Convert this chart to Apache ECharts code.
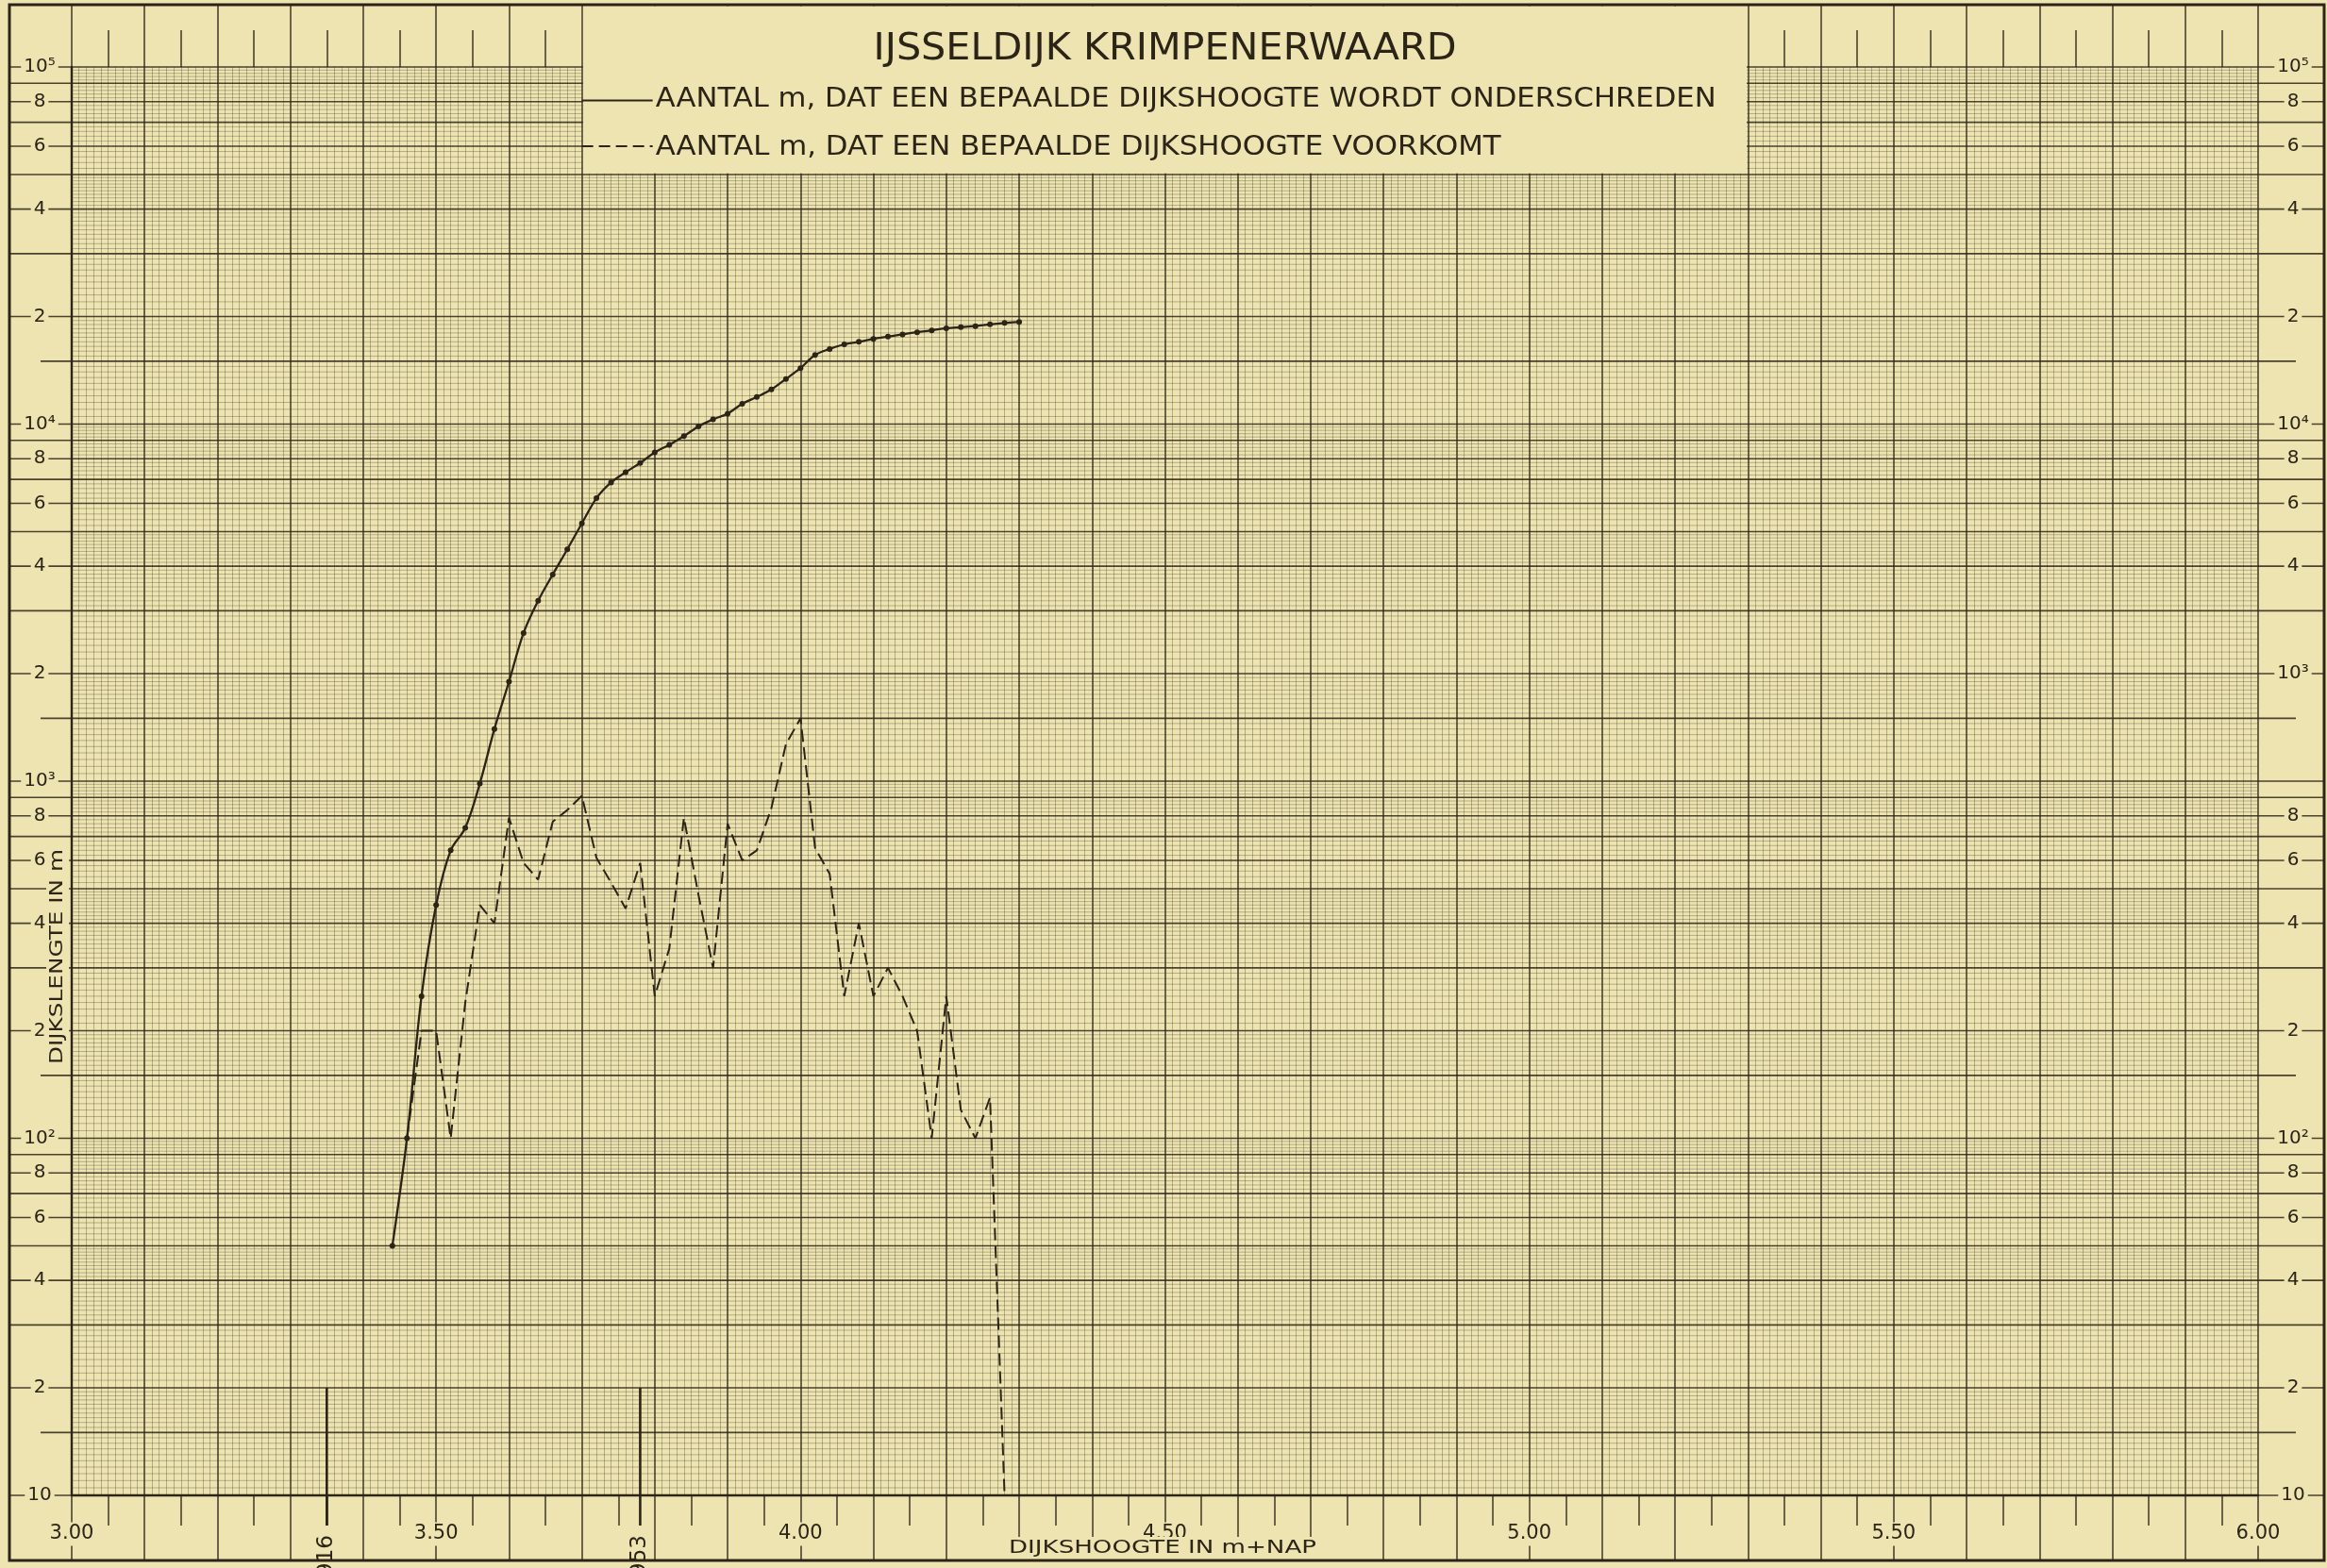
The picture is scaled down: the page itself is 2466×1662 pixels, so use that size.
<!DOCTYPE html>
<html>
<head>
<meta charset="utf-8">
<script src="https://cdn.jsdelivr.net/npm/echarts@6/dist/echarts.min.js"></script>
<style>
html,body{margin:0;padding:0;background:#ece3b0;}
#c{width:2466px;height:1662px;}
</style>
</head>
<body>
<div id="c"></div>
<script>
// ---------------- data ----------------
const solidX = [3.44,3.46,3.48,3.50,3.52,3.54,3.56,3.58,3.60,3.62,3.64,3.66,3.68,3.70,3.72,3.74,3.76,3.78,3.80,3.82,3.84,3.86,3.88,3.90,3.92,3.94,3.96,3.98,4.00,4.02,4.04,4.06,4.08,4.10,4.12,4.14,4.16,4.18,4.20,4.22,4.24,4.26,4.28,4.30];
const solidY = [50,100,250,450,640,740,985,1400,1900,2600,3200,3790,4460,5270,6200,6860,7330,7780,8330,8750,9250,9850,10310,10700,11400,11910,12500,13380,14350,15610,16230,16720,16990,17320,17570,17830,18080,18300,18550,18680,18810,19020,19190,19330];

const dashedX = [3.46,3.48,3.50,3.52,3.54,3.56,3.58,3.60,3.62,3.64,3.66,3.68,3.70,3.72,3.74,3.76,3.78,3.80,3.82,3.84,3.86,3.88,3.90,3.92,3.94,3.96,3.98,4.00,4.02,4.04,4.06,4.08,4.10,4.12,4.14,4.16,4.18,4.20,4.22,4.24,4.26,4.28];
const dashedY = [100,200,200,100,240,450,400,790,590,530,770,830,910,610,520,440,590,250,340,790,480,300,760,600,640,840,1270,1500,650,550,250,400,250,300,250,200,100,250,120,100,130,10];

const xTickValues = [3.0,3.5,4.0,4.5,5.0,5.5,6.0];
const xTickLabels = ['3.00','3.50','4.00','4.50','5.00','5.50','6.00'];

const yLabelValues = [100000,80000,60000,40000,20000,10000,8000,6000,4000,2000,1000,800,600,400,200,100,80,60,40,20,10];
const yLabelsLeft  = ['10⁵','8','6','4','2','10⁴','8','6','4','2','10³','8','6','4','2','10²','8','6','4','2','10'];
const yLabelsRight = ['10⁵','8','6','4','2','10⁴','8','6','4','10³','','8','6','4','2','10²','8','6','4','2','10'];

const markerX = [3.35, 3.78];
const markerLabels = ['916', '953'];

const titleText = 'IJSSELDIJK KRIMPENERWAARD';
const legendSolidText = 'AANTAL m, DAT EEN BEPAALDE DIJKSHOOGTE WORDT ONDERSCHREDEN';
const legendDashedText = 'AANTAL m, DAT EEN BEPAALDE DIJKSHOOGTE VOORKOMT';
const xAxisName = 'DIJKSHOOGTE IN m+NAP';
const yAxisName = 'DIJKSLENGTE IN m';

// ---------------- styling ----------------
const PAPER = '#ede4b1';
const INK = '#2c2417';
const STRONG = 'rgba(46,38,24,0.86)';
const FINE = 'rgba(62,52,34,0.32)';
const FONT = '"DejaVu Sans", "Liberation Sans", sans-serif';

// graph-paper horizontal ruling (log paper): kind 0 fine, 1 = 1.5 line, 2 = main line
const hGrid = [];
for (let e = 1; e <= 4; e++) {
  const b = Math.pow(10, e);
  hGrid.push([3, b, 2]);
  for (let k = 21; k <= 39; k++) hGrid.push([3, b * k / 20, k === 30 ? 1 : 0]);
  for (let k = 20; k <= 50; k++) hGrid.push([3, b * k / 10, k % 10 === 0 ? 2 : 0]);
  for (let k = 26; k <= 49; k++) hGrid.push([3, b * k / 5, k % 5 === 0 ? 2 : 0]);
}
hGrid.push([3, 100000, 2]);

const chart = echarts.init(document.getElementById('c'), null, {renderer: 'canvas'});

function renderH(params, api) {
  const v = api.value(1), kind = api.value(2);
  const a = api.coord([3, v]), b = api.coord([6, v]);
  let x1 = a[0], x2 = b[0];
  if (kind === 1) { x1 -= 33; x2 += 40; }
  if (kind === 2) { x1 -= 66; x2 += 70; }
  return {
    type: 'line', silent: true,
    shape: {x1: x1, y1: a[1], x2: x2, y2: a[1]},
    style: {stroke: kind ? STRONG : FINE, lineWidth: kind ? 1.6 : 1}
  };
}

function labelStyle(t, size) {
  return {text: t, fontSize: size, fontFamily: FONT, fill: INK,
    align: 'center', verticalAlign: 'middle', textAlign: 'center', textVerticalAlign: 'middle',
    backgroundColor: PAPER, padding: [1, 3]};
}

function renderLab(params, api) {
  const i = params.dataIndex;
  const v = api.value(1);
  const a = api.coord([3, v]), b = api.coord([6, v]);
  const ch = [];
  if (yLabelsLeft[i]) ch.push({type: 'text', x: a[0] - 34, y: a[1], style: labelStyle(yLabelsLeft[i], 20)});
  if (yLabelsRight[i]) ch.push({type: 'text', x: b[0] + 37, y: b[1], style: labelStyle(yLabelsRight[i], 20)});
  return {type: 'group', silent: true, children: ch};
}

function renderMark(params, api) {
  const i = params.dataIndex;
  const x = api.value(0);
  const top = api.coord([x, api.value(1)]);
  const bot = api.coord([x, 10]);
  return {type: 'group', silent: true, children: [
    {type: 'line', shape: {x1: top[0], y1: top[1], x2: top[0], y2: bot[1] + 32},
     style: {stroke: INK, lineWidth: 2.6}},
    {type: 'text', x: top[0], y: bot[1] + 42, rotation: Math.PI / 2,
     style: {text: markerLabels[i], fontSize: 23, fontFamily: FONT, fill: INK,
       align: 'right', verticalAlign: 'middle', textAlign: 'right', textVerticalAlign: 'middle'}}
  ]};
}

function xLabelFmt(value) {
  const idx = xTickValues.findIndex(t => Math.abs(t - value) < 1e-6);
  return idx >= 0 ? '{a|' + xTickLabels[idx] + '}' : '';
}

const option = {
  animation: false,
  backgroundColor: PAPER,
  grid: {left: 76, right: 73, top: 71, bottom: 77, containLabel: false},
  xAxis: [
    {type: 'value', min: 3, max: 6, interval: 0.1, position: 'bottom',
     axisLine: {show: true, lineStyle: {color: INK, width: 2.4}},
     axisTick: {show: false}, axisLabel: {show: false},
     splitLine: {show: true, lineStyle: {color: STRONG, width: 1.6}},
     minorTick: {show: false, splitNumber: 10},
     minorSplitLine: {show: true, lineStyle: {color: FINE, width: 1}}},
    {type: 'value', min: 3, max: 6, interval: 0.1, position: 'bottom',
     axisLine: {show: false},
     axisTick: {show: true, length: 69, lineStyle: {color: STRONG, width: 1.6}},
     minorTick: {show: true, splitNumber: 2, length: 32, lineStyle: {color: STRONG, width: 1.6}},
     splitLine: {show: false}, minorSplitLine: {show: false},
     axisLabel: {show: true, margin: 41, verticalAlign: 'middle', showMinLabel: true, showMaxLabel: true,
       formatter: xLabelFmt,
       rich: {a: {fontSize: 21, fontFamily: FONT, color: INK, backgroundColor: PAPER, padding: [2, 3]}}}},
    {type: 'value', min: 3, max: 6, interval: 0.1, position: 'top',
     axisLine: {show: false},
     axisTick: {show: true, length: 66, lineStyle: {color: STRONG, width: 1.6}},
     minorTick: {show: true, splitNumber: 2, length: 39, lineStyle: {color: STRONG, width: 1.6}},
     splitLine: {show: false}, minorSplitLine: {show: false}, axisLabel: {show: false}}
  ],
  yAxis: [
    {type: 'log', logBase: 10, min: 10, max: 100000,
     axisLine: {show: true, lineStyle: {color: INK, width: 2.4}},
     axisTick: {show: false}, axisLabel: {show: false},
     splitLine: {show: false}, minorTick: {show: false}, minorSplitLine: {show: false}}
  ],
  series: [
    {type: 'custom', name: 'hgrid', renderItem: renderH, data: hGrid, clip: false, silent: true,
     encode: {x: 0, y: 1}, z: 1},
    {type: 'custom', name: 'ylabels', renderItem: renderLab,
     data: yLabelValues.map((v, i) => [3, v, i]), clip: false, silent: true, encode: {x: 0, y: 1}, z: 3},
    {type: 'custom', name: 'markers', renderItem: renderMark,
     data: markerX.map((x, i) => [x, 20, i]), clip: false, silent: true, encode: {x: 0, y: 1}, z: 4},
    {type: 'line', name: 'onderschreden', data: solidX.map((x, i) => [x, solidY[i]]),
     smooth: 0.35, symbol: 'circle', symbolSize: 6, showSymbol: true,
     lineStyle: {color: INK, width: 2.3}, itemStyle: {color: INK}, z: 10, silent: true},
    {type: 'line', name: 'voorkomt', data: dashedX.map((x, i) => [x, dashedY[i]]),
     symbol: 'none', lineStyle: {color: INK, width: 2, type: [13, 6]}, z: 10, silent: true}
  ]
};
chart.setOption(option);

// ----- title box, legend, axis names (positions from the chart's own scales) -----
const ctx = document.createElement('canvas').getContext('2d');
function fitScale(text, size, target) {
  ctx.font = size + 'px ' + FONT;
  const w = ctx.measureText(text).width;
  return w > 0 ? target / w : 1;
}
const x37 = chart.convertToPixel({xAxisIndex: 0}, 3.7);
const x53 = chart.convertToPixel({xAxisIndex: 0}, 5.3);
const y5e4 = chart.convertToPixel({yAxisIndex: 0}, 50000);
const xMid = (x37 + x53) / 2;

function txt(text, x, y, size, target, align, extra) {
  const s = fitScale(text, size, target);
  return {
    type: 'text', x: x, y: y, scaleX: s, z: 52, silent: true,
    style: Object.assign({text: text, fontSize: size, fontFamily: FONT, fill: INK,
      align: align, textAlign: align, verticalAlign: 'middle', textVerticalAlign: 'middle'}, extra || {})
  };
}

const graphics = [
  {type: 'rect', z: 50, silent: true,
   shape: {x: x37 + 1.3, y: 6.5, width: x53 - x37 - 2.6, height: y5e4 - 6.5 - 1.2},
   style: {fill: PAPER}},
  txt(titleText, xMid, 52.5, 39, 618, 'center'),
  {type: 'line', z: 52, silent: true, shape: {x1: x37, y1: 106.5, x2: x37 + 75, y2: 106.5},
   style: {stroke: INK, lineWidth: 2}},
  {type: 'line', z: 52, silent: true, shape: {x1: x37, y1: 155, x2: x37 + 75, y2: 155},
   style: {stroke: INK, lineWidth: 1.8, lineDash: [12, 6]}},
  txt(legendSolidText, x37 + 78, 105, 29, 1124, 'left'),
  txt(legendDashedText, x37 + 78, 156, 29, 896, 'left'),
  txt(xAxisName, 1232, 1641, 20, 326, 'center', {backgroundColor: PAPER, padding: [2, 4]}),
  Object.assign(txt(yAxisName, 61, 1014, 20, 228, 'center', {backgroundColor: PAPER, padding: [2, 3]}),
    {rotation: Math.PI / 2}),
  {type: 'rect', z: 60, silent: true, shape: {x: 10, y: 5, width: 2453, height: 1649},
   style: {fill: 'none', stroke: INK, lineWidth: 3}}
];
chart.setOption({graphic: graphics});
</script>
</body>
</html>
